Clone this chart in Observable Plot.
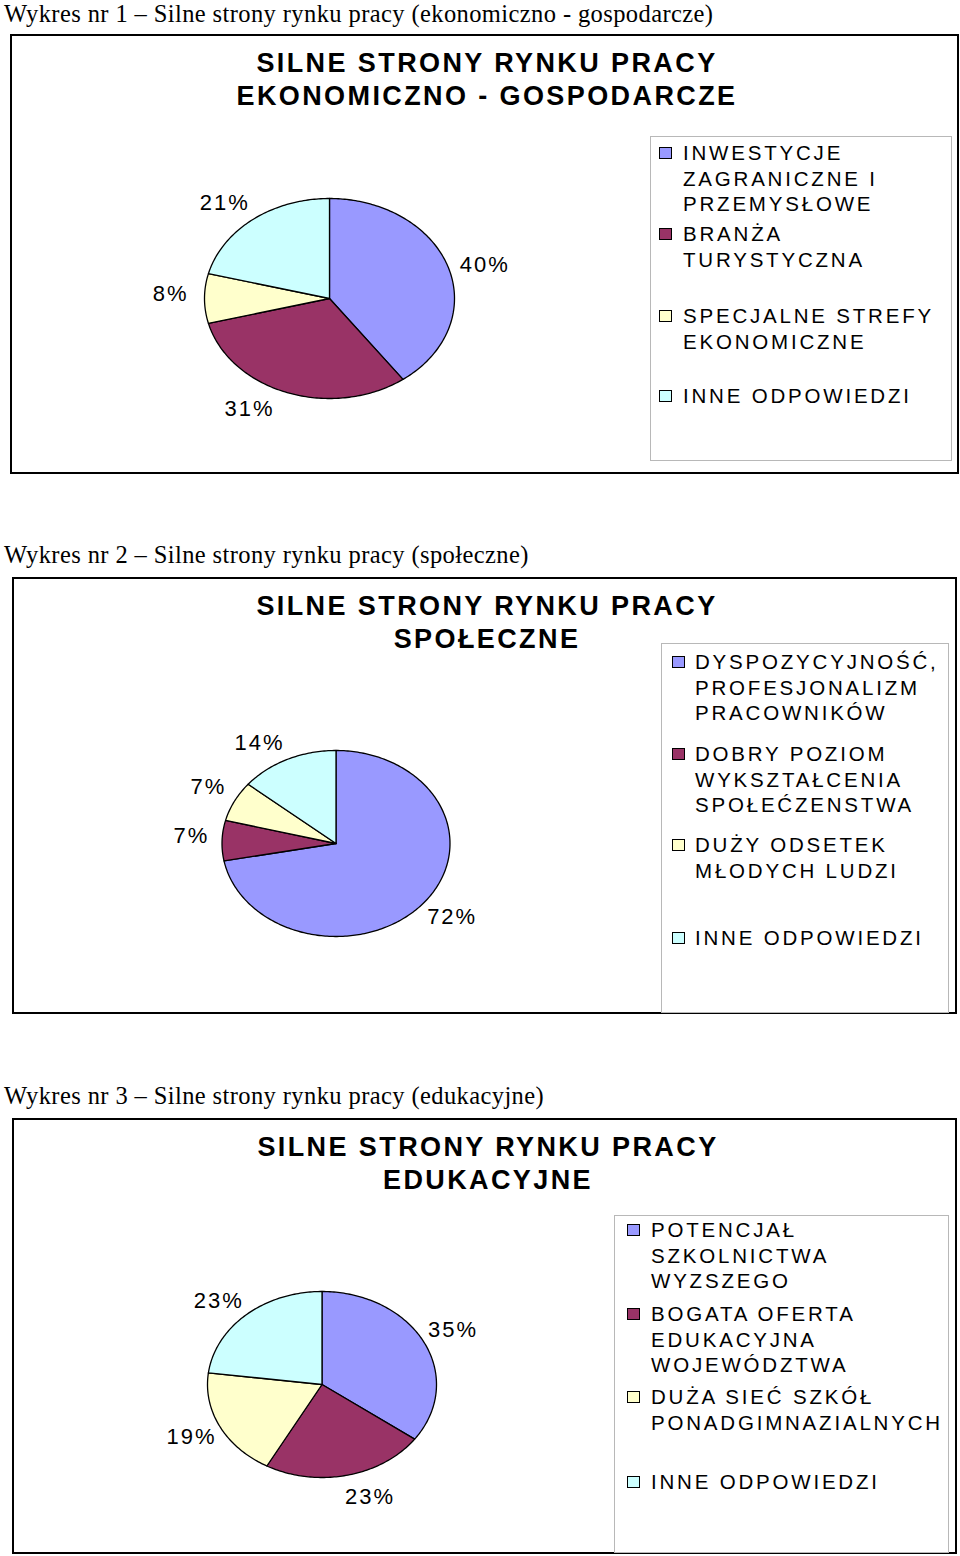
<!DOCTYPE html>
<html><head><meta charset="utf-8">
<script src="https://cdn.jsdelivr.net/npm/d3@7"></script>
<script src="https://cdn.jsdelivr.net/npm/@observablehq/plot@0.6"></script>
<style>
html,body{margin:0;padding:0;background:#fff}
body{width:960px;height:1556px;position:relative;overflow:hidden}
.abs{position:absolute}
.caption{font-family:"Liberation Serif","Times New Roman",serif;font-size:24.5px;letter-spacing:0.4px;white-space:nowrap;line-height:26px}
.frame{border:2px solid #000;box-sizing:border-box}
.title{font-family:"Liberation Sans",Arial,sans-serif;font-weight:bold;font-size:27px;letter-spacing:2.4px;text-align:center;line-height:33px;white-space:nowrap}
.legend{border:1px solid #b8b8b8;box-sizing:border-box;background:transparent}
.item{font-family:"Liberation Sans",Arial,sans-serif;font-size:20.5px;letter-spacing:2.8px;line-height:25.5px;white-space:pre}
.swatch{width:13px;height:12px;border:1px solid #000;box-sizing:border-box}
</style></head><body>
<script>
// ---- data ----
const captions = [
  "Wykres nr 1 – Silne strony rynku pracy (ekonomiczno - gospodarcze)",
  "Wykres nr 2 – Silne strony rynku pracy (społeczne)",
  "Wykres nr 3 – Silne strony rynku pracy (edukacyjne)"
];
const titles1 = ["SILNE STRONY RYNKU PRACY", "EKONOMICZNO - GOSPODARCZE"];
const titles2 = ["SILNE STRONY RYNKU PRACY", "SPOŁECZNE"];
const titles3 = ["SILNE STRONY RYNKU PRACY", "EDUKACYJNE"];
const categories1 = ["INWESTYCJE\nZAGRANICZNE I\nPRZEMYSŁOWE", "BRANŻA\nTURYSTYCZNA", "SPECJALNE STREFY\nEKONOMICZNE", "INNE ODPOWIEDZI"];
const values1 = [40, 31, 8, 21];
const categories2 = ["DYSPOZYCYJNOŚĆ,\nPROFESJONALIZM\nPRACOWNIKÓW", "DOBRY POZIOM\nWYKSZTAŁCENIA\nSPOŁEĆZENSTWA", "DUŻY ODSETEK\nMŁODYCH LUDZI", "INNE ODPOWIEDZI"];
const values2 = [72, 7, 7, 14];
const categories3 = ["POTENCJAŁ\nSZKOLNICTWA\nWYZSZEGO", "BOGATA OFERTA\nEDUKACYJNA\nWOJEWÓDZTWA", "DUŻA SIEĆ SZKÓŁ\nPONADGIMNAZIALNYCH", "INNE ODPOWIEDZI"];
const values3 = [35, 23, 19, 23];
const colors = ["#9999FF", "#993366", "#FFFFCC", "#CCFFFF"];

// ---- layout (pixels) ----
const layouts = [
  {capY: 1, frame: [10, 34, 959, 474], titleY: 47, titleX: 487, pie: [329, 298, 125, 100],
   legend: [650, 136, 952, 461], swatchX: 659, textX: 683, itemY: [153, 234, 316, 396],
   labelK: 1.28, nudge: [2.6, 10.6, 1.9, -3.6]},
  {capY: 542, frame: [12, 577, 957, 1014], titleY: 590, titleX: 487, pie: [335.5, 843, 114, 93],
   legend: [661, 643, 949, 1013], swatchX: 672, textX: 695, itemY: [662, 754, 845, 938],
   labelK: 1.28, nudge: [-1.7, 1.7, 1.2, -6.9]},
  {capY: 1083, frame: [12, 1118, 957, 1554], titleY: 1131, titleX: 488, pie: [321.5, 1384, 114.5, 93],
   legend: [614, 1215, 949, 1553], swatchX: 627, textX: 651, itemY: [1230, 1314, 1397, 1482],
   labelK: 1.28, nudge: [-0.4, -6.1, 0.8, -3.9]}
];

const charts = [
  {caption: captions[0], titles: titles1, categories: categories1, values: values1},
  {caption: captions[1], titles: titles2, categories: categories2, values: values2},
  {caption: captions[2], titles: titles3, categories: categories3, values: values3}
];

function el(cls, css, text) {
  const d = document.createElement("div");
  d.className = "abs " + cls;
  Object.assign(d.style, css);
  if (text != null) d.textContent = text;
  document.body.appendChild(d);
  return d;
}

charts.forEach((c, ci) => {
  const L = layouts[ci];
  const [fl, ft, fr, fb] = L.frame;
  const W = fr - fl, H = fb - ft;
  const [cx, cy, rx, ry] = L.pie;

  el("caption", {left: "4px", top: L.capY + "px"}, c.caption);

  // pie geometry from the values
  const total = d3.sum(c.values);
  const ends = d3.cumsum(c.values);
  const poly = [];
  const labels = [];
  c.values.forEach((v, i) => {
    const a0 = (ends[i] - v) / total * 2 * Math.PI;
    const a1 = ends[i] / total * 2 * Math.PI;
    const cat = c.categories[i];
    poly.push({cat, x: 0, y: 0});
    const n = Math.max(2, Math.ceil((a1 - a0) / (Math.PI / 180)));
    for (let k = 0; k <= n; k++) {
      const a = a0 + (a1 - a0) * k / n;
      poly.push({cat, x: Math.sin(a), y: Math.cos(a)});
    }
    poly.push({cat, x: 0, y: 0});
    const am = (a0 + a1) / 2 + L.nudge[i] * Math.PI / 180;
    labels.push({x: Math.sin(am) * L.labelK, y: Math.cos(am) * L.labelK, text: v + "%"});
  });

  el("frame", {left: fl + "px", top: ft + "px", width: W + "px", height: H + "px"});

  const svg = Plot.plot({
    width: W, height: H,
    margin: 0,
    style: {background: "transparent", fontFamily: "Liberation Sans, Arial, sans-serif", letterSpacing: "2px", overflow: "visible"},
    x: {domain: [(fl - cx) / rx, (fr - cx) / rx], range: [0, W], axis: null},
    y: {domain: [-(fb - cy) / ry, (cy - ft) / ry], range: [H, 0], axis: null},
    color: {domain: c.categories, range: colors},
    marks: [
      Plot.line(poly, {x: "x", y: "y", z: "cat", fill: "cat", stroke: "#000", strokeWidth: 1.3, curve: "linear", strokeLinejoin: "round"}),
      Plot.text(labels, {x: "x", y: "y", text: "text", fontSize: 22, fill: "#000", dx: 1})
    ]
  });
  svg.style.position = "absolute";
  svg.style.left = fl + "px";
  svg.style.top = ft + "px";
  document.body.appendChild(svg);

  const [ll, lt, lr, lb] = L.legend;
  el("legend", {left: ll + "px", top: lt + "px", width: (lr - ll) + "px", height: (lb - lt) + "px"});
  c.categories.forEach((cat, i) => {
    el("swatch", {left: L.swatchX + "px", top: (L.itemY[i] - 6) + "px", background: colors[i]});
    el("item", {left: L.textX + "px", top: (L.itemY[i] - 12.75) + "px"}, cat);
  });

  c.titles.forEach((t, j) => {
    el("title", {left: (L.titleX - 400) + "px", width: "800px", top: (L.titleY + j * 33) + "px"}, t);
  });
});
</script>
</body></html>
